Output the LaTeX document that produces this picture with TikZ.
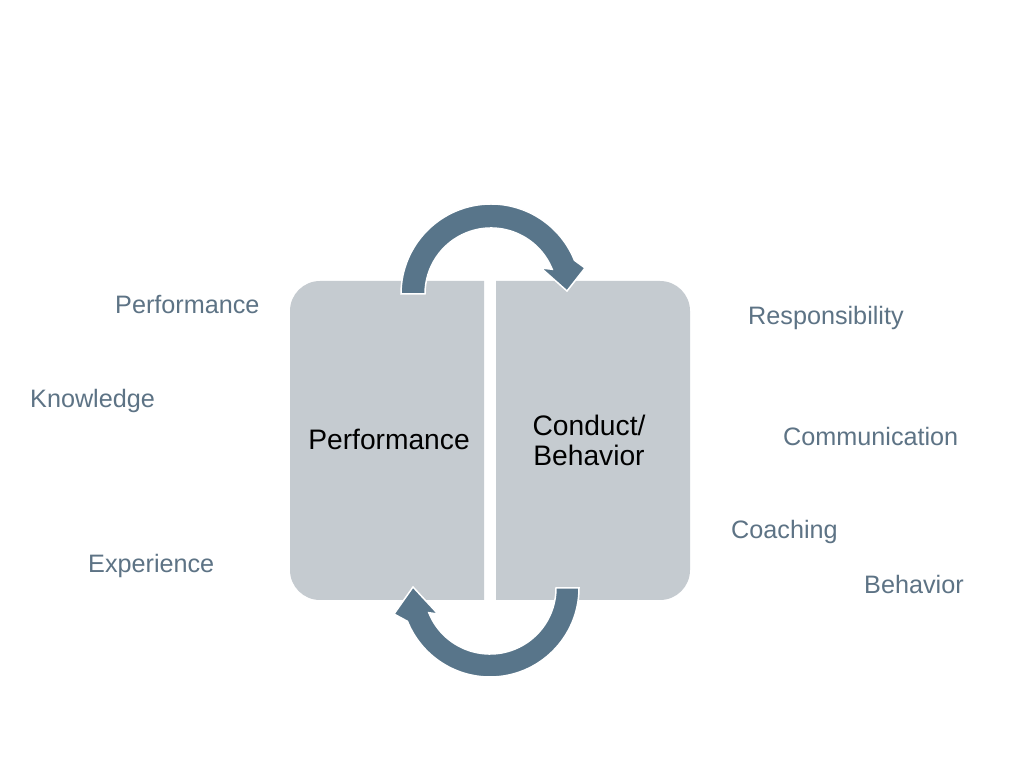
\documentclass[tikz,border=0pt]{standalone}
\usepackage{fontspec}
\setmainfont{Liberation Sans}
\usetikzlibrary{calc}
\definecolor{boxc}{HTML}{C5CBD0}
\definecolor{arrowc}{HTML}{58758A}
\definecolor{sidec}{HTML}{5D7385}
\tikzset{
  sidelabel/.style={anchor=base west, inner sep=0pt, text=sidec, font=\fontsize{25.2}{30}\selectfont},
  boxlabel/.style={inner sep=0pt, text=black, align=center, font=\fontsize{28.2}{30}\selectfont},
  boxshape/.style={fill=boxc},
  cyclearrow/.style={fill=arrowc, draw=white, line width=1.5pt, line join=miter},
}
\begin{document}
\begin{tikzpicture}[x=1pt,y=1pt]
\useasboundingbox[fill=white] (0,0) rectangle (1024,768);
% boxes
\fill[boxshape] (484,168) -- (320,168) arc[start angle=270,end angle=180,radius=30] -- (290,457) arc[start angle=180,end angle=90,radius=30] -- (484,487) -- cycle;
\fill[boxshape] (496,168) -- (660,168) arc[start angle=270,end angle=360,radius=30] -- (690,457) arc[start angle=0,end angle=90,radius=30] -- (496,487) -- cycle;
% top arrow
\coordinate (c1) at (491,474);
\filldraw[cyclearrow] ($(c1)+(180:90)$) arc[start angle=180,end angle=22,radius=90]
  -- (585,500) -- (567,477) -- (541,500) -- ($(c1)+(22:66)$)
  arc[start angle=22,end angle=180,radius=66] -- cycle;
% bottom arrow
\coordinate (c2) at (490,180);
\filldraw[cyclearrow] ($(c2)+(0:89)$) arc[start angle=0,end angle=-158,radius=89]
  -- (394,154) -- (413,181) -- (438,154) -- ($(c2)+(-158:66)$)
  arc[start angle=-158,end angle=0,radius=66] -- cycle;
% box labels
\node[boxlabel, anchor=base] (perf) at (389,318) {Performance};
\node[boxlabel, anchor=center] (cond) at (589,328) {Conduct/\\Behavior};
% side labels
\node[sidelabel] (lperf) at (115,454) {Performance};
\node[sidelabel] (lknow) at (30,360) {Knowledge};
\node[sidelabel] (lexp) at (88,195) {Experience};
\node[sidelabel] (rresp) at (748,443) {Responsibility};
\node[sidelabel] (rcomm) at (783,322) {Communication};
\node[sidelabel] (rcoach) at (731,229) {Coaching};
\node[sidelabel] (rbeh) at (864,174) {Behavior};
\end{tikzpicture}
\end{document}
